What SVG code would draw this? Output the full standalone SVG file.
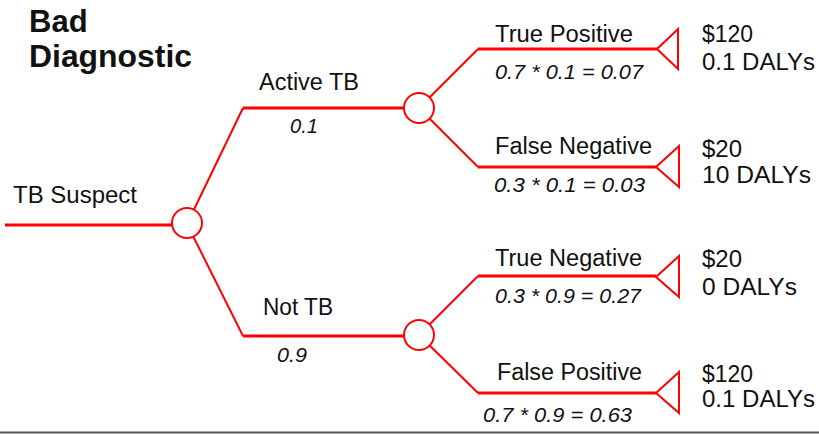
<svg xmlns="http://www.w3.org/2000/svg" width="819" height="434" viewBox="0 0 819 434">
<style>
.h{stroke:#ff0000;stroke-width:3;fill:none}
.d{stroke:#ff0000;stroke-width:2;fill:none}
.c{stroke:#ff0000;stroke-width:2;fill:#ffffff}
.t{stroke:#ff0000;stroke-width:2;fill:#ffffff;stroke-linejoin:miter}
text{font-family:"Liberation Sans",Arial,sans-serif;fill:#111}
.lb{font-size:23px}
.pr{font-size:21px;font-style:italic}
.tt{font-size:31px;font-weight:bold}
</style>
<rect width="819" height="434" fill="#ffffff"/>
<g id="title">
<text class="tt" x="29" y="32">Bad</text>
<text class="tt" x="29" y="67" textLength="163" lengthAdjust="spacingAndGlyphs">Diagnostic</text>
</g>
<g id="connectors">
<line class="h" x1="5" y1="225" x2="187" y2="225"/>
<polyline class="d" points="187,224 243,108"/>
<line class="h" x1="243" y1="108" x2="419" y2="108"/>
<polyline class="d" points="187,224 243,336"/>
<line class="h" x1="243" y1="336" x2="419" y2="336"/>
<polyline class="d" points="419,108 478,49"/>
<line class="h" x1="478" y1="49" x2="657" y2="49"/>
<polyline class="d" points="419,108 478,167"/>
<line class="h" x1="478" y1="167" x2="656" y2="167"/>
<polyline class="d" points="419,335 478,276"/>
<line class="h" x1="478" y1="276" x2="656" y2="276"/>
<polyline class="d" points="419,335 478,393"/>
<line class="h" x1="478" y1="393" x2="656" y2="393"/>
</g>
<g id="root">
<circle class="c" cx="187" cy="223" r="15"/>
<text class="lb" x="13" y="203" textLength="124" lengthAdjust="spacingAndGlyphs">TB Suspect</text>
</g>
<g id="activeTB">
<circle class="c" cx="419" cy="108" r="15"/>
<text class="lb" x="259" y="90" textLength="100" lengthAdjust="spacingAndGlyphs">Active TB</text>
<text class="pr" x="290" y="133" textLength="28" lengthAdjust="spacingAndGlyphs">0.1</text>
</g>
<g id="notTB">
<circle class="c" cx="419" cy="335" r="15"/>
<text class="lb" x="263" y="315" textLength="70" lengthAdjust="spacingAndGlyphs">Not TB</text>
<text class="pr" x="277" y="362" textLength="30" lengthAdjust="spacingAndGlyphs">0.9</text>
</g>
<g id="truePositive">
<polygon class="t" points="657,49 678,29 678,69"/>
<text class="lb" x="495" y="42" textLength="138" lengthAdjust="spacingAndGlyphs">True Positive</text>
<text class="pr" x="495" y="79" textLength="148" lengthAdjust="spacingAndGlyphs">0.7 * 0.1 = 0.07</text>
<text class="lb" x="702" y="42" textLength="51" lengthAdjust="spacingAndGlyphs">$120</text>
<text class="lb" x="702" y="70" textLength="113" lengthAdjust="spacingAndGlyphs">0.1 DALYs</text>
</g>
<g id="falseNegative">
<polygon class="t" points="656,167 679,146 679,187"/>
<text class="lb" x="495" y="154" textLength="157" lengthAdjust="spacingAndGlyphs">False Negative</text>
<text class="pr" x="494" y="192" textLength="151" lengthAdjust="spacingAndGlyphs">0.3 * 0.1 = 0.03</text>
<text class="lb" x="702" y="157" textLength="40" lengthAdjust="spacingAndGlyphs">$20</text>
<text class="lb" x="702" y="183" textLength="109" lengthAdjust="spacingAndGlyphs">10 DALYs</text>
</g>
<g id="trueNegative">
<polygon class="t" points="656,277 679,256 679,297"/>
<text class="lb" x="495" y="266" textLength="147" lengthAdjust="spacingAndGlyphs">True Negative</text>
<text class="pr" x="495" y="303" textLength="146" lengthAdjust="spacingAndGlyphs">0.3 * 0.9 = 0.27</text>
<text class="lb" x="702" y="267" textLength="40" lengthAdjust="spacingAndGlyphs">$20</text>
<text class="lb" x="702" y="295" textLength="95" lengthAdjust="spacingAndGlyphs">0 DALYs</text>
</g>
<g id="falsePositive">
<polygon class="t" points="656,393 679,372 679,413"/>
<text class="lb" x="497" y="380" textLength="145" lengthAdjust="spacingAndGlyphs">False Positive</text>
<text class="pr" x="483" y="422" textLength="149" lengthAdjust="spacingAndGlyphs">0.7 * 0.9 = 0.63</text>
<text class="lb" x="702" y="382" textLength="51" lengthAdjust="spacingAndGlyphs">$120</text>
<text class="lb" x="702" y="407" textLength="113" lengthAdjust="spacingAndGlyphs">0.1 DALYs</text>
</g>
<line x1="0" y1="432.5" x2="819" y2="432.5" stroke="#555555" stroke-width="2"/>
</svg>
